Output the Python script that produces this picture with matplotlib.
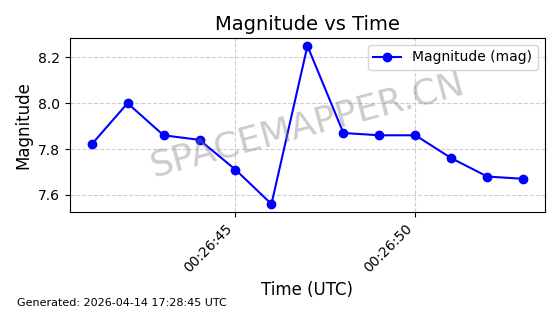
import matplotlib
matplotlib.use("Agg")
import matplotlib.pyplot as plt
import matplotlib.dates as mdates
import pandas as pd

times = pd.date_range("2026-04-14 00:26:41", periods=13, freq="1s")
magnitudes = [7.82, 8.00, 7.86, 7.84, 7.71, 7.56, 8.25, 7.87, 7.86, 7.86, 7.76, 7.68, 7.67]
yticks = [7.6, 7.8, 8.0, 8.2]

fig, ax = plt.subplots(figsize=(5.6, 3.14), dpi=100)
fig.subplots_adjust(left=0.125, right=0.973, top=0.879, bottom=0.325)
ax.plot(times, magnitudes, "o-", color="blue", label="Magnitude (mag)")
ax.set_title("Magnitude vs Time", fontsize=14)
ax.set_xlabel("Time (UTC)", fontsize=12)
ax.set_ylabel("Magnitude", fontsize=12)
ax.set_yticks(yticks)
ax.xaxis.set_major_locator(mdates.SecondLocator(bysecond=range(0, 60, 5)))
ax.xaxis.set_major_formatter(mdates.DateFormatter("%H:%M:%S"))
plt.setp(ax.get_xticklabels(), rotation=45, ha="right")
ax.grid(True, linestyle="--", alpha=0.6)
ax.legend(loc="upper right")
ax.text(0.5, 0.5, "SPACEMAPPER.CN", transform=ax.transAxes, fontsize=26,
        color="gray", alpha=0.4, rotation=15, ha="center", va="center")
fig.text(0.03, 0.025, "Generated: 2026-04-14 17:28:45 UTC", fontsize=8)
fig.savefig("out.png", dpi=100)
